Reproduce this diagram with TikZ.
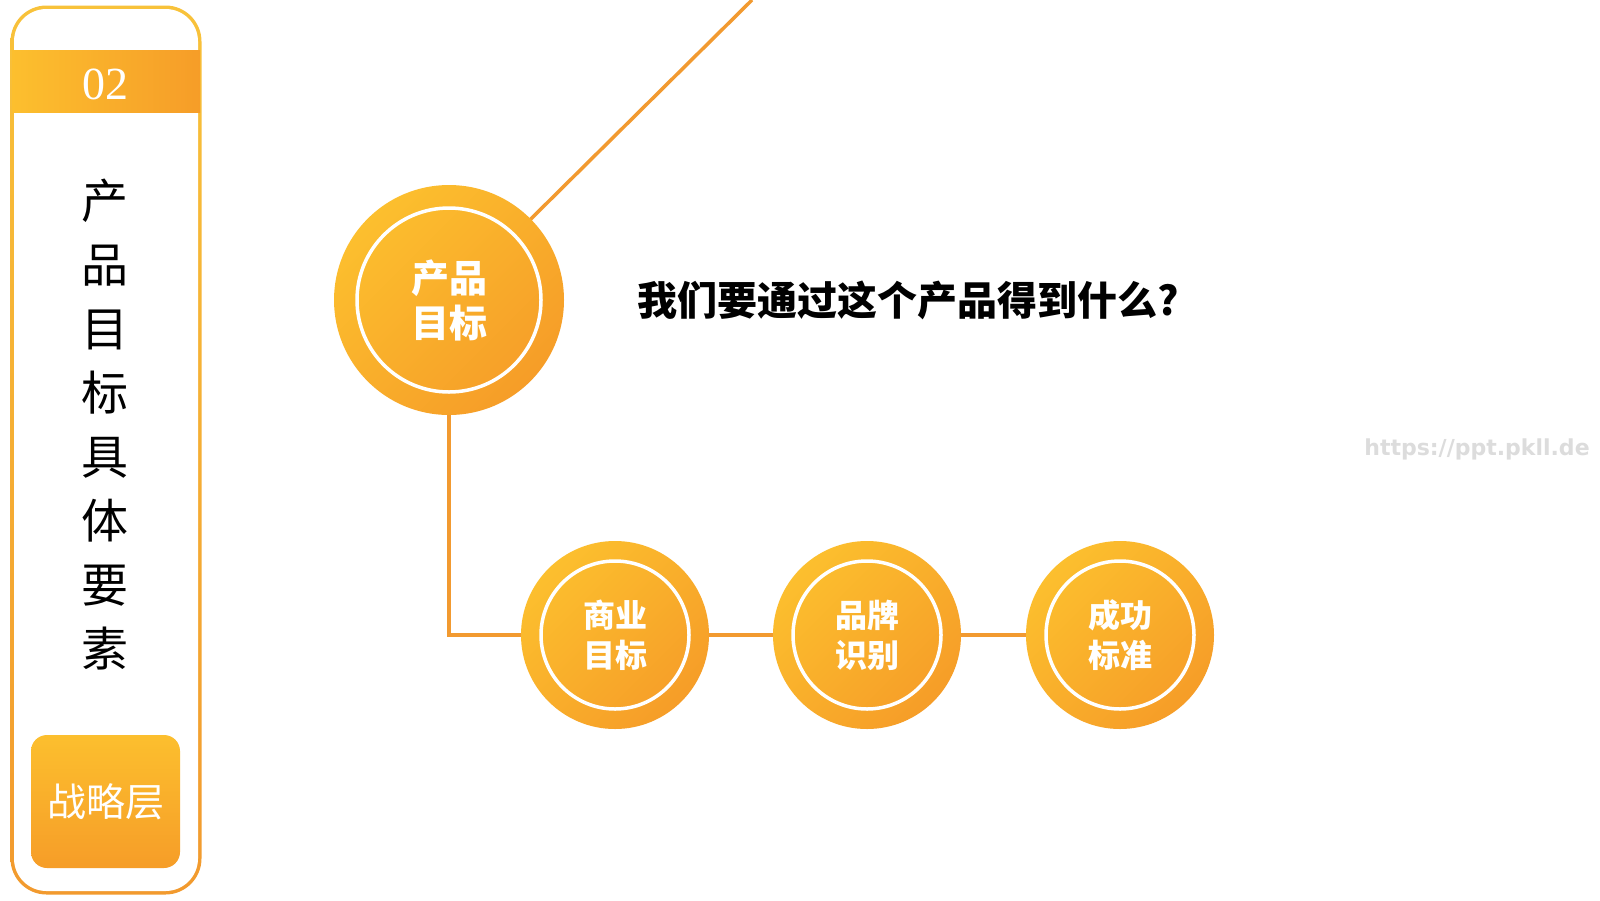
\documentclass[tikz,border=0pt]{standalone}
\usepackage{fontspec}
\newfontfamily\cjk{Noto Sans CJK SC}
\newfontfamily\serifnum{Liberation Serif}
\newfontfamily\wmfont{DejaVu Sans}
\usetikzlibrary{backgrounds}
\definecolor{cy}{HTML}{FCBF2E}
\definecolor{co}{HTML}{F69D28}
\definecolor{cline}{HTML}{F29A30}
\definecolor{py}{HTML}{F8C23A}
\definecolor{po}{HTML}{F29A2E}
\definecolor{wmgray}{HTML}{DCDCDC}
\tikzset{
  bigc/.style={circle, minimum size=230pt, inner sep=0pt, top color=cy, bottom color=co, shading angle=45},
  smallc/.style={circle, minimum size=188pt, inner sep=0pt, top color=cy, bottom color=co, shading angle=45},
  ring/.style={circle, draw=white, line width=3.5pt, inner sep=0pt, text=white, align=center},
  conn/.style={draw=cline, line width=3.5pt},
  btnbox/.style={rounded corners=16pt, minimum width=149pt, minimum height=133pt, inner sep=0pt, top color=cy, bottom color=co, text=white, font=\cjk\fontsize{39}{39}\selectfont}
}
\begin{document}
\begin{tikzpicture}[x=1pt,y=-1pt]
\useasboundingbox (0,0) rectangle (1600,900);

% left panel
\path[top color=py, bottom color=po, rounded corners=36pt] (10.5,5.5) rectangle (201.5,894.5);
\fill[white, rounded corners=32.5pt] (14,9) rectangle (198,891);
\path[left color=cy, right color=co] (12,50) rectangle (200,112);
\node[text=white, font=\serifnum\fontsize{46}{46}\selectfont] (pnum) at (105,84) {02};
\node[align=center, font=\cjk\fontsize{47}{64}\selectfont] (vt) at (105,424.5) {产\\品\\目\\标\\具\\体\\要\\素};
\node[btnbox] (btn) at (105.5,801.5) {战略层};

% main circle
\node[bigc] (pm) at (449,300) {};
\node[ring, minimum size=184pt, font=\cjk\bfseries\fontsize{38}{45}\selectfont] (pmt) at (pm) {产品\\目标};

% small circles
\node[smallc] (c1) at (615,635) {};
\node[ring, minimum size=148pt, font=\cjk\bfseries\fontsize{32}{40}\selectfont] (c1t) at (c1) {商业\\目标};
\node[smallc] (c2) at (867,635) {};
\node[ring, minimum size=148pt, font=\cjk\bfseries\fontsize{32}{40}\selectfont] (c2t) at (c2) {品牌\\识别};
\node[smallc] (c3) at (1120,635) {};
\node[ring, minimum size=148pt, font=\cjk\bfseries\fontsize{32}{40}\selectfont] (c3t) at (c3) {成功\\标准};

% title
\node[anchor=west, font=\cjk\bfseries\fontsize{40}{40}\selectfont] (title) at (634,300) {我们要通过这个产品得到什么?};

% watermark
\node[text=wmgray, font=\wmfont\bfseries\fontsize{22}{22}\selectfont] (wm) at (1477,449) {https://ppt.pkll.de};

\coordinate (topend) at (752,0);
\begin{scope}[on background layer]
\fill[white] (0,0) rectangle (1600,900);
\draw[conn] (pm.center) -- (topend);
\draw[conn] (pm) |- (c1);
\draw[conn] (c1) -- (c2);
\draw[conn] (c2) -- (c3);
\end{scope}
\end{tikzpicture}
\end{document}
